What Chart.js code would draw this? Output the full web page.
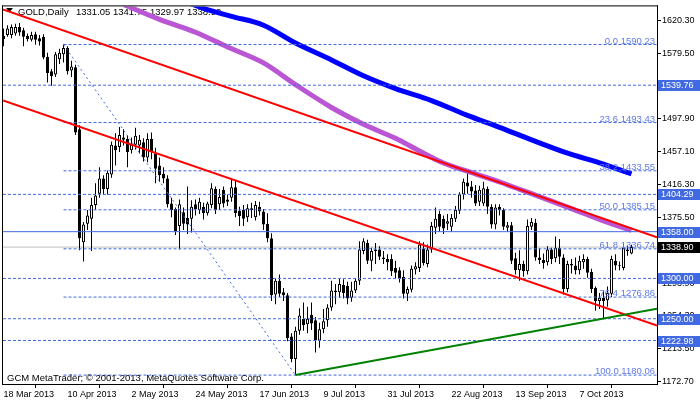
<!DOCTYPE html>
<html><head><meta charset="utf-8">
<script src="https://cdn.jsdelivr.net/npm/chart.js@4.4.1/dist/chart.umd.min.js"></script>
<style>
html,body{margin:0;padding:0;background:#fff;overflow:hidden}
canvas{display:block;background:#fff}
</style></head>
<body>
<canvas id="c" width="700" height="402" style="width:700px;height:402px"></canvas>
<script>
// ---------- data ----------
const symbol = 'GOLD,Daily';
const opens = [
1601,1602,1602,1604,1612,1608,1601,1596,1603,1598,
1600,1575,1557,1553,1572,1578,1586,1558,1562,1485,
1345,1368,1374,1391,1405,1424,1411,1429,1465,1463,
1475,1473,1459,1466,1465,1469,1450,1473,1455,1440,
1430,1424,1393,1386,1365,1382,1375,1374,1392,1385,
1389,1381,1391,1411,1392,1410,1398,1400,1413,1384,
1385,1376,1385,1376,1389,1383,1368,1350,1280,1297,
1283,1279,1228,1200,1235,1250,1243,1255,1248,1223,
1237,1248,1264,1285,1283,1292,1291,1276,1285,1297,
1334,1344,1322,1336,1336,1326,1324,1324,1313,1310,
1302,1281,1286,1311,1313,1337,1318,1336,1363,1380,
1374,1368,1364,1374,1384,1404,1419,1414,1409,1395,
1393,1411,1389,1367,1389,1385,1363,1366,1325,1310,
1318,1309,1364,1369,1326,1323,1320,1336,1325,1338,
1326,1287,1318,1316,1310,1320,1324,1308,1288,1272,
1276,1273,1281,1322,1315,1313,1336,1331.05];
const highs = [
1610,1614,1615,1616,1617,1611,1604,1606,1606,1602,
1603,1580,1560,1581,1585,1590.23,1588,1570,1565,1490,
1370,1385,1400,1418,1438,1428,1434,1470,1480,1488,
1485,1478,1475,1487,1478,1474,1480,1481,1462,1450,
1438,1428,1400,1388,1398,1388,1414,1397,1398,1400,
1394,1395,1418,1414,1411,1414,1404,1424,1422,1389,
1391,1392,1394,1396,1395,1386,1381,1356,1300,1305,
1288,1282,1232,1240,1263,1270,1265,1270,1252,1245,
1262,1268,1297,1293,1300,1299,1296,1296,1300,1346,
1350,1348,1338,1344,1340,1334,1330,1330,1322,1314,
1310,1290,1316,1320,1346,1345,1342,1370,1388,1384,
1378,1380,1380,1390,1407,1424,1433,1421,1416,1415,
1420,1414,1392,1392,1392,1387,1370,1370,1332,1335,
1322,1373,1375,1374,1337,1331,1340,1338,1352,1349,
1330,1322,1324,1326,1328,1330,1327,1312,1290,1282,
1285,1290,1328,1330,1321,1343,1341,1341.75];
const lows = [
1588,1600,1598,1601,1601,1588,1594,1594,1590,1589,
1572,1543,1539,1550,1566,1568,1553,1550,1478,1335,
1321,1360,1334,1385,1400,1404,1404,1425,1440,1457,
1465,1438,1455,1460,1455,1445,1444,1448,1418,1420,
1418,1388,1376,1354,1336,1360,1355,1357,1378,1380,
1373,1378,1387,1380,1385,1388,1390,1395,1376,1365,
1365,1370,1375,1372,1378,1360,1345,1272,1268,1277,
1272,1222,1196,1180.06,1230,1235,1232,1236,1208,1214,
1232,1240,1260,1268,1276,1275,1268,1271,1282,1292,
1330,1318,1309,1318,1323,1318,1310,1303,1300,1295,
1275,1272,1283,1305,1308,1316,1314,1332,1355,1358,
1355,1360,1358,1370,1380,1398,1405,1400,1390,1390,
1390,1380,1362,1361,1378,1360,1358,1318,1305,1297,
1302,1305,1360,1322,1318,1312,1316,1318,1320,1318,
1280,1283,1306,1305,1305,1312,1301,1282,1260,1262,
1251,1265,1277,1310,1310,1310,1328,1329.97];
const closes = [
1597,1610,1612,1612,1605,1600,1597,1602,1596,1594,
1574,1555,1551,1578,1580,1586,1557,1563,1481,1350,
1367,1378,1391,1403,1424,1411,1431,1466,1459,1478,
1472,1457,1466,1477,1472,1450,1473,1457,1436,1428,
1424,1392,1385,1359,1392,1368,1367,1389,1386,1395,
1381,1393,1412,1385,1401,1393,1395,1413,1381,1377,
1374,1387,1387,1391,1383,1367,1350,1279,1297,1281,
1279,1226,1200,1235,1254,1242,1250,1244,1223,1237,
1247,1264,1285,1283,1293,1282,1275,1285,1297,1336,
1346,1322,1334,1334,1327,1324,1320,1309,1307,1300,
1281,1287,1312,1315,1342,1319,1336,1365,1374,1364,
1362,1371,1375,1385,1404,1420,1414,1408,1393,1410,
1412,1389,1367,1388,1385,1364,1366,1322,1310,1318,
1309,1365,1370,1326,1323,1319,1336,1324,1338,1327,
1287,1318,1316,1310,1322,1324,1307,1287,1272,1276,
1272,1282,1324,1316,1316,1338,1334,1338.90];

// date axis (bar index of each label)
const dateIdx    = [0,16,32,48,64,80,96,112,128,144];
const dateLabels = ['18 Mar 2013','10 Apr 2013','2 May 2013','24 May 2013','17 Jun 2013','9 Jul 2013','31 Jul 2013','22 Aug 2013','13 Sep 2013','7 Oct 2013'];
// price axis tick labels
const priceTicks = [1620.30,1579.50,1538.70,1497.90,1457.10,1416.30,1375.50,1334.70,1293.90,1254.30,1213.50,1172.70];

// moving averages (sampled bar index -> value)
const maPurpleIdx = [30,39,48,56,65,73,82,90,99,104,110,118,126,134,142,150,157];
const maPurpleVal = [1640.0,1621.5,1605.5,1587.1,1567.4,1540.4,1512.1,1491.2,1471.5,1458.0,1443.2,1429.7,1416.2,1401.4,1386.7,1371.3,1359.6];
const maBlueIdx = [46,50,57,65,73,82,90,98,107,116,124,132,141,149,157];
const maBlueVal = [1642.4,1635.1,1625.2,1614.2,1592.0,1571.1,1551.4,1535.5,1520.7,1502.3,1487.5,1472.0,1455.5,1443.5,1429.7];

// trend lines: [idx0, val0, idx1, val1]
const upperChannel = [-0.125,1633.8,163.375,1351.0];
const lowerChannel = [-0.125,1520.7,163.375,1241.5];
const supportLine  = [73,1180.06,163.375,1262.5];

// fibonacci retracement
const fibFromIdx = 15, fibToIdx = 73;
const fibLevels = ['0.0','23.6','38.2','50.0','61.8','76.4','100.0'];
const fibPrices = [1590.23,1493.43,1433.55,1385.15,1336.74,1276.86,1180.06];

// horizontal levels
const levelPrices = [1539.76,1404.29,1300.00,1250.00,1222.98];
const resistancePrice = 1358.00;
const bidPrice = 1338.90;

// ---------- chart ----------
const X_MIN = -0.125, X_MAX = 163.375;
const Y_MIN = 1169.02, Y_MAX = 1637.52;
const FAM = '"Liberation Sans", Arial, sans-serif';
const LVL_BLUE = '#4169e1';
const FIB_TXT = '#5f7ae6';

const idx = opens.map((_, i) => i);
const wickData = idx.map(i => ({x: i, y: [lows[i], highs[i]]}));
const bodyData = idx.map(i => ({x: i, y: [opens[i], closes[i]]}));
const bodyColors = idx.map(i => closes[i] >= opens[i] ? '#ffffff' : '#000000');

function lineDs(xs, ys, color, width, dash, order, smooth) {
  const d = {type: 'line', data: xs.map((x, k) => ({x, y: ys[k]})), borderColor: color, borderWidth: width,
    borderDash: dash, pointRadius: 0, fill: false, tension: 0, order, clip: 0, borderCapStyle: 'butt', borderJoinStyle: 'round'};
  if (smooth) d.cubicInterpolationMode = 'monotone';
  return d;
}

const datasets = [];
datasets.push(lineDs([X_MIN, X_MAX], [bidPrice, bidPrice], '#c0c0c0', 1, [], 30));
datasets.push({type: 'bar', data: wickData, backgroundColor: '#000', borderWidth: 0, barThickness: 1,
  grouped: false, inflateAmount: 0, order: 20});
datasets.push({type: 'bar', data: bodyData, backgroundColor: bodyColors, borderColor: '#000', borderWidth: 1,
  borderSkipped: false, barThickness: 3, grouped: false, minBarLength: 1, inflateAmount: 0, order: 19});
datasets.push(lineDs(maPurpleIdx, maPurpleVal, '#ba55d3', 5, [], 12, true));
datasets.push(lineDs(maBlueIdx, maBlueVal, '#0000ff', 5, [], 11, true));
fibPrices.forEach(p => datasets.push(lineDs([fibFromIdx, X_MAX], [p, p], LVL_BLUE, 1, [3, 2], 8)));
levelPrices.forEach(p => datasets.push(lineDs([X_MIN, X_MAX], [p, p], LVL_BLUE, 1, [3, 2], 8)));
datasets.push(lineDs([X_MIN, X_MAX], [resistancePrice, resistancePrice], LVL_BLUE, 1, [], 8));
datasets.push(lineDs([fibFromIdx, fibToIdx], [fibPrices[0], fibPrices[6]], LVL_BLUE, 1, [2, 3], 7));
datasets.push(lineDs([upperChannel[0], upperChannel[2]], [upperChannel[1], upperChannel[3]], '#ff0000', 2, [], 5));
datasets.push(lineDs([lowerChannel[0], lowerChannel[2]], [lowerChannel[1], lowerChannel[3]], '#ff0000', 2, [], 5));
datasets.push(lineDs([supportLine[0], supportLine[2]], [supportLine[1], supportLine[3]], '#008000', 2, [], 4));

const fmt = v => v.toFixed(2);
const n = closes.length - 1;

const overlay = {
  id: 'overlay',
  beforeDraw(chart) {
    const ctx = chart.ctx;
    ctx.save(); ctx.fillStyle = '#fff'; ctx.fillRect(0, 0, chart.width, chart.height); ctx.restore();
  },
  beforeDatasetsDraw(chart) {
    const ctx = chart.ctx;
    ctx.save();
    ctx.fillStyle = '#000';
    ctx.beginPath(); ctx.moveTo(6, 8); ctx.lineTo(13, 8); ctx.lineTo(9.5, 12); ctx.closePath(); ctx.fill();
    ctx.font = '9.5px ' + FAM; ctx.textBaseline = 'alphabetic'; ctx.textAlign = 'left';
    ctx.fillText(symbol, 18, 15);
    ctx.fillText([opens[n], highs[n], lows[n], closes[n]].map(fmt).join(' '), 76, 15);
    ctx.restore();
  },
  afterDatasetsDraw(chart) {
    const ctx = chart.ctx, ys = chart.scales.y;
    ctx.save();
    ctx.font = '9.5px ' + FAM;
    ctx.fillStyle = '#000'; ctx.textAlign = 'left'; ctx.textBaseline = 'alphabetic';
    ctx.fillText('GCM MetaTrader; \u00a9 2001-2013, MetaQuotes Software Corp.', 7, 381);
    ctx.fillStyle = FIB_TXT; ctx.textAlign = 'right';
    fibPrices.forEach((p, k) => ctx.fillText(fibLevels[k] + ' ' + fmt(p), 655, Math.round(ys.getPixelForValue(p)) - 1));
    ctx.restore();
  },
  afterDraw(chart) {
    const ctx = chart.ctx, ys = chart.scales.y, a = chart.chartArea;
    ctx.save();
    ctx.strokeStyle = '#000'; ctx.lineWidth = 1;
    ctx.beginPath();
    ctx.moveTo(a.left - 0.5, a.top - 1); ctx.lineTo(a.left - 0.5, a.bottom + 1);
    ctx.moveTo(a.left - 1, a.top - 0.5); ctx.lineTo(a.right + 1, a.top - 0.5);
    ctx.moveTo(a.right + 0.5, a.top - 1); ctx.lineTo(a.right + 0.5, a.bottom + 1);
    ctx.moveTo(a.left - 1, a.bottom + 0.5); ctx.lineTo(a.right + 1, a.bottom + 0.5);
    ctx.stroke();
    ctx.font = '9px ' + FAM; ctx.textBaseline = 'middle'; ctx.textAlign = 'left';
    const box = (p, bg) => {
      const y = Math.round(ys.getPixelForValue(p));
      ctx.fillStyle = bg; ctx.fillRect(a.right + 1, y - 5, chart.width - a.right - 1, 11);
      ctx.fillStyle = '#fff'; ctx.fillText(fmt(p), a.right + 4, y + 0.5);
    };
    levelPrices.concat([resistancePrice]).forEach(p => box(p, LVL_BLUE));
    box(bidPrice, '#000');
    ctx.restore();
  }
};

new Chart(document.getElementById('c'), {
  type: 'bar',
  data: {datasets},
  options: {
    responsive: false, animation: false, devicePixelRatio: 1, events: [],
    layout: {padding: {left: 3, top: 3, right: 0, bottom: 0}},
    plugins: {legend: {display: false}, tooltip: {enabled: false}, title: {display: false}},
    scales: {
      x: {type: 'linear', min: X_MIN, max: X_MAX, offset: false, bounds: 'data',
        afterBuildTicks: s => { s.ticks = dateIdx.map(v => ({value: v})); },
        afterFit: s => { s.height = 18; },
        ticks: {autoSkip: false, maxRotation: 0, minRotation: 0, align: 'start', padding: 1, color: '#000',
          font: {family: FAM, size: 9}, callback: v => { const k = dateIdx.indexOf(v); return k >= 0 ? dateLabels[k] : ''; }},
        grid: {display: true, drawOnChartArea: false, drawTicks: true, tickLength: 4, color: '#000', lineWidth: 1},
        border: {display: false}},
      y: {type: 'linear', position: 'right', min: Y_MIN, max: Y_MAX, beginAtZero: false, bounds: 'data',
        afterBuildTicks: s => { s.ticks = priceTicks.map(v => ({value: v})); },
        afterFit: s => { s.width = 43; },
        ticks: {padding: 1, color: '#000', font: {family: FAM, size: 9}, callback: v => Number(v).toFixed(2)},
        grid: {display: true, drawOnChartArea: false, drawTicks: true, tickLength: 4, color: '#000', lineWidth: 1},
        border: {display: false}}
    }
  },
  plugins: [overlay]
});
</script>
</body></html>
